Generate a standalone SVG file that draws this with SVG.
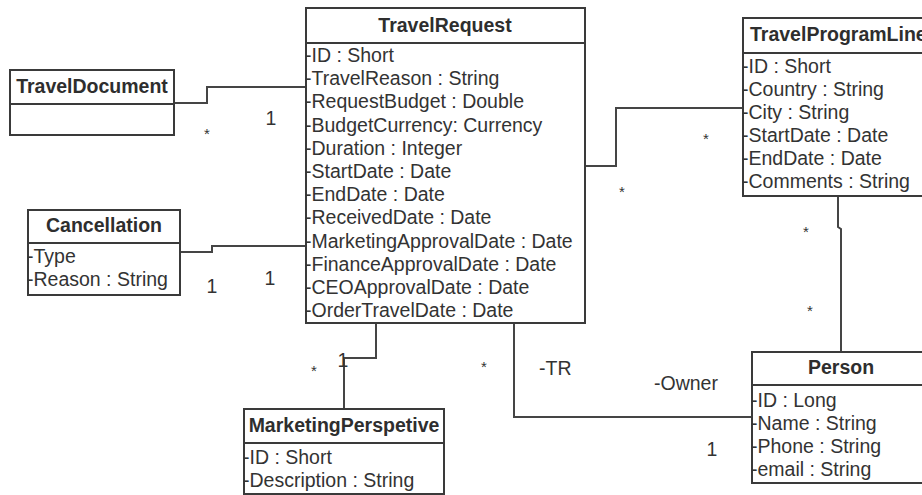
<svg xmlns="http://www.w3.org/2000/svg" width="922" height="495" viewBox="0 0 922 495">
  <style>
    .box { fill: #ffffff; stroke: #3a3a3a; stroke-width: 2; }
    .sep { stroke: #3a3a3a; stroke-width: 2; }
    .title { font-family: "Liberation Sans", Arial, sans-serif; font-size: 19.5px; font-weight: bold; fill: #2e2e2e; text-anchor: middle; }
    .attr { font-family: "Liberation Sans", Arial, sans-serif; font-size: 19.5px; fill: #333333; }
    .lbl { font-family: "Liberation Sans", Arial, sans-serif; font-size: 19.5px; fill: #333333; }
    .star { font-family: "Liberation Sans", Arial, sans-serif; font-size: 15px; fill: #333333; text-anchor: middle; }
    .mid { text-anchor: middle; }
    .conn { fill: none; stroke: #454545; stroke-width: 2; }
  </style>
  <rect width="922" height="495" fill="#ffffff"/>

  <!-- associations -->
  <g id="connectors">
    <polyline class="conn" points="174,103 207,103 207,87 306,87"/>
    <polyline class="conn" points="180,252 212,252 212,246 306,246"/>
    <polyline class="conn" points="585,166 616,166 616,108 743,108"/>
    <polyline class="conn" points="376,323 376,358 344,358 344,409"/>
    <polyline class="conn" points="514,323 514,417 752,417"/>
    <polyline class="conn" points="838,196 838,227 841,229 841,352"/>

    <text class="star" x="207" y="139">*</text>
    <text class="lbl mid" x="271" y="125">1</text>
    <text class="lbl mid" x="212" y="293">1</text>
    <text class="lbl mid" x="270" y="285">1</text>
    <text class="star" x="706" y="144">*</text>
    <text class="star" x="622" y="197">*</text>
    <text class="star" x="806" y="237">*</text>
    <text class="star" x="810" y="316">*</text>
    <text class="star" x="314" y="376">*</text>
    <text class="lbl mid" x="343" y="367">1</text>
    <text class="star" x="484" y="372">*</text>
    <text class="lbl" x="539" y="375">-TR</text>
    <text class="lbl" x="654" y="390">-Owner</text>
    <text class="lbl mid" x="712" y="456">1</text>
  </g>

  <g id="TravelDocument">
    <rect class="box" x="10" y="70" width="164" height="65"/>
    <line class="sep" x1="10" y1="104" x2="174" y2="104"/>
    <text class="title" x="92" y="93">TravelDocument</text>
  </g>

  <g id="TravelRequest">
    <rect class="box" x="306" y="8" width="279" height="315"/>
    <line class="sep" x1="306" y1="43" x2="585" y2="43"/>
    <text class="title" x="445" y="32">TravelRequest</text>
    <text class="attr" x="305" y="62">-ID : Short</text>
    <text class="attr" x="305" y="85.2">-TravelReason : String</text>
    <text class="attr" x="305" y="108.4">-RequestBudget : Double</text>
    <text class="attr" x="305" y="131.6">-BudgetCurrency: Currency</text>
    <text class="attr" x="305" y="154.8">-Duration : Integer</text>
    <text class="attr" x="305" y="178">-StartDate : Date</text>
    <text class="attr" x="305" y="201.2">-EndDate : Date</text>
    <text class="attr" x="305" y="224.4">-ReceivedDate : Date</text>
    <text class="attr" x="305" y="247.6">-MarketingApprovalDate : Date</text>
    <text class="attr" x="305" y="270.8">-FinanceApprovalDate : Date</text>
    <text class="attr" x="305" y="294">-CEOApprovalDate : Date</text>
    <text class="attr" x="305" y="317.2">-OrderTravelDate : Date</text>
  </g>

  <g id="TravelProgramLine">
    <rect class="box" x="743" y="18" width="200" height="178"/>
    <line class="sep" x1="743" y1="53" x2="943" y2="53"/>
    <text class="title" x="750" y="41" style="text-anchor:start">TravelProgramLine</text>
    <text class="attr" x="742" y="73">-ID : Short</text>
    <text class="attr" x="742" y="96">-Country : String</text>
    <text class="attr" x="742" y="119">-City : String</text>
    <text class="attr" x="742" y="142">-StartDate : Date</text>
    <text class="attr" x="742" y="165">-EndDate : Date</text>
    <text class="attr" x="742" y="188">-Comments : String</text>
  </g>

  <g id="Cancellation">
    <rect class="box" x="28" y="210" width="152" height="85"/>
    <line class="sep" x1="28" y1="243" x2="180" y2="243"/>
    <text class="title" x="104" y="232">Cancellation</text>
    <text class="attr" x="27" y="263">-Type</text>
    <text class="attr" x="27" y="286">-Reason : String</text>
  </g>

  <g id="MarketingPerspetive">
    <rect class="box" x="244" y="409" width="200" height="85"/>
    <line class="sep" x1="244" y1="443" x2="444" y2="443"/>
    <text class="title" x="344" y="432">MarketingPerspetive</text>
    <text class="attr" x="243" y="464">-ID : Short</text>
    <text class="attr" x="243" y="487">-Description : String</text>
  </g>

  <g id="Person">
    <rect class="box" x="752" y="352" width="178" height="131"/>
    <line class="sep" x1="752" y1="385" x2="930" y2="385"/>
    <text class="title" x="841" y="374">Person</text>
    <text class="attr" x="751" y="407">-ID : Long</text>
    <text class="attr" x="751" y="430">-Name : String</text>
    <text class="attr" x="751" y="453">-Phone : String</text>
    <text class="attr" x="751" y="476">-email : String</text>
  </g>
</svg>
